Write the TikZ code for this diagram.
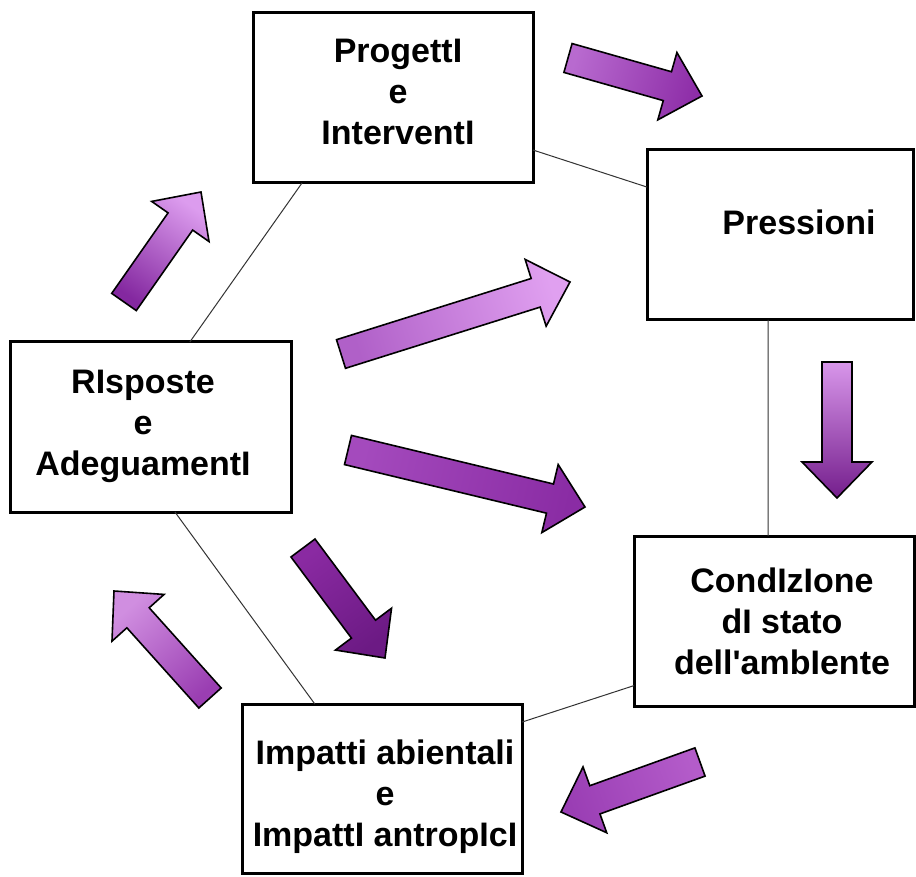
\documentclass[tikz,border=0pt]{standalone}
\usepackage{fontspec}
\setmainfont{Liberation Sans}[Ligatures=TeXOff]
\usetikzlibrary{calc}
\definecolor{aA}{HTML}{B86ACF}\definecolor{aB}{HTML}{8E2EA8}
\definecolor{bA}{HTML}{B060C8}\definecolor{bB}{HTML}{E0A0F0}
\definecolor{cA}{HTML}{A44ABD}\definecolor{cB}{HTML}{8A2CA4}
\definecolor{dA}{HTML}{8A2AA2}\definecolor{dB}{HTML}{6C1A84}
\definecolor{eA}{HTML}{9A3EB2}\definecolor{eB}{HTML}{D08EE0}
\definecolor{fA}{HTML}{8428A0}\definecolor{fB}{HTML}{DC9CEE}
\definecolor{gA}{HTML}{D896EA}\definecolor{gB}{HTML}{741E8C}
\definecolor{hA}{HTML}{B45CCA}\definecolor{hB}{HTML}{9A3EB4}
\newcommand\blockarrow[4]{%
  \path let \p1=($(#2)-(#1)$), \n1={atan2(\y1,\x1)}, \n2={veclen(\x1,\y1)} in
    \pgfextra{\xdef\BAang{\n1}\xdef\BAlen{\n2}};
  \pgfmathsetmacro\BAsh{\BAang-90}%
  \pgfmathsetmacro\BAf{1-36/\BAlen}%
  \coordinate (bn) at ($(#1)!\BAf!(#2)$);
  \draw[arrowbody, bottom color=#3, top color=#4, shading angle=\BAsh]
    ($(#1)!15pt!90:(#2)$) -- ($(bn)!15pt!-90:(#1)$) -- ($(bn)!35pt!-90:(#1)$) --
    (#2) -- ($(bn)!35pt!90:(#1)$) -- ($(bn)!15pt!90:(#1)$) --
    ($(#1)!15pt!-90:(#2)$) -- cycle;
}
\begin{document}
\begin{tikzpicture}[x=1pt,y=-1pt,
  box/.style={draw=black, line width=3pt, fill=white, inner sep=0pt, outer sep=0pt},
  lbl/.style={font=\fontsize{34}{41}\selectfont\bfseries, align=center, inner sep=0pt},
  link/.style={draw=black!80, line width=1pt},
  arrowbody/.style={draw=black, line width=1.6pt, line join=miter}]
\fill[white] (0,0) rectangle (916,877);
\useasboundingbox (0,0) rectangle (916,877);

% boxes
\node[box, minimum width=280pt, minimum height=170pt] (prog) at (393,98) {};
\node[box, minimum width=266pt, minimum height=170pt] (press) at (780,235) {};
\node[box, minimum width=281pt, minimum height=170pt] (risp) at (150.5,427) {};
\node[box, minimum width=280pt, minimum height=170pt] (cond) at (774,621) {};
\node[box, minimum width=280pt, minimum height=169pt] (imp) at (382,788.5) {};

% thin links
\draw[link] ($(prog.south west)!0.175!(prog.south east)$) -- ($(risp.north west)!0.64!(risp.north east)$);
\draw[link] ($(prog.north east)!0.806!(prog.south east)$) -- ($(press.north west)!0.218!(press.south west)$);
\draw[link] ($(press.south west)!0.455!(press.south east)$) -- ($(cond.north west)!0.479!(cond.north east)$);
\draw[link] ($(cond.north west)!0.88!(cond.south west)$) -- ($(imp.north east)!0.107!(imp.south east)$);
\draw[link] ($(imp.north west)!0.26!(imp.north east)$) -- ($(risp.south west)!0.587!(risp.south east)$);

% texts
\node[lbl] (progt) at (398,92) {ProgettI\\e\\InterventI};
\node[lbl, anchor=base] (presst) at (799,235) {Pressioni};
\node[lbl] (rispt) at (143,426) {RIsposte\\e\\AdeguamentI};
\node[lbl] (condt) at (782,621) {CondIzIone\\dI stato\\dell'ambIente};
\node[lbl] (impt) at (385,797) {Impatti abientali\\e\\ImpattI antropIcI};

% block arrows: tail / tip coordinates
\coordinate (a1t) at (568,58);  \coordinate (a1h) at (702,96);
\coordinate (a2t) at (341,354); \coordinate (a2h) at (570,282);
\coordinate (a3t) at (348,450); \coordinate (a3h) at (585,507);
\coordinate (a4t) at (303,548); \coordinate (a4h) at (385,658);
\coordinate (a5t) at (210,698); \coordinate (a5h) at (114,591);
\coordinate (a6t) at (124,302); \coordinate (a6h) at (201,192);
\coordinate (a7t) at (837,362); \coordinate (a7h) at (837,498);
\coordinate (a8t) at (700,762); \coordinate (a8h) at (561,812);
\blockarrow{a1t}{a1h}{aA}{aB}
\blockarrow{a2t}{a2h}{bA}{bB}
\blockarrow{a3t}{a3h}{cA}{cB}
\blockarrow{a4t}{a4h}{dA}{dB}
\blockarrow{a5t}{a5h}{eA}{eB}
\blockarrow{a6t}{a6h}{fA}{fB}
\blockarrow{a7t}{a7h}{gA}{gB}
\blockarrow{a8t}{a8h}{hA}{hB}
\end{tikzpicture}
\end{document}
